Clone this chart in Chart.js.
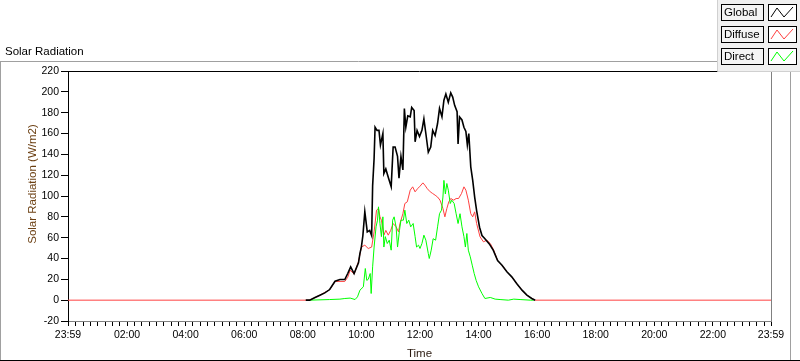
<!DOCTYPE html>
<html><head><meta charset="utf-8">
<script src="https://cdn.jsdelivr.net/npm/chart.js@4/dist/chart.umd.min.js"></script>
<style>html,body{margin:0;padding:0;background:#fff;overflow:hidden}#wrap{position:relative;width:800px;height:361px}</style>
</head><body><div id="wrap"><canvas id="c" width="800" height="361"></canvas></div>
<script>
// ---- data (minutes after midnight, W/m2) ----
const seriesNames = ['Global', 'Diffuse', 'Direct'];
const seriesColors = ['#000000', '#ff4040', '#00ff00'];

const globalTimes = [486,494,505,515,525,535,546,556,566,572,578,585,594,597,600,603,607,612,617,621,623,626,628,632,636,639,644,646,650,655,661,665,669,674,677,681,685,688,691,695,700,703,708,710,714,719,724,728,732,737,742,746,751,756,760,765,769,773,778,783,787,791,796,798,801,806,810,814,817,820,824,828,832,836,842,847,853,862,870,879,888,898,908,918,929,939,949,956];
const globalValues = [0,0,2.6,4.8,7,10.2,18.2,19.8,19.8,25.6,32,25.6,35.8,45,51.2,62,85,65.6,67,62,110,136,166,163,163,149,160,121.6,126,118,109,147,147,138,117,138,125,184,166,177,176,185,182,152,163,157,163,174,160,142,147,163,158,169.6,184,176,192,198,190,199,195,187,181,150,176,173,166,162,149,160,128,115,99,86,70,62,59,54,48,38,33.6,27.2,22.4,16,9.6,4.8,1.6,0];

const diffuseTimes = [-1,494,515,535,546,566,572,577,585,594,600,607,614,621,626,631,635,638,641,646,650,655,660,665,671,676,679,685,689,694,700,705,710,715,720,726,730,735,741,746,751,756,761,767,771,775,779,783,789,794,799,805,810,814,819,824,828,832,836,843,850,857,864,871,879,888,898,908,918,929,939,949,956,1439];
const diffuseValues = [0,0,4.8,10,18,18,22,28.8,25,37,51,52.8,49.6,51,65.6,86.4,88,80,76.8,62.4,67,62.4,67,73.6,70.4,65.6,73.6,83,92.8,94.4,105.6,108.8,104,107,109.4,112.6,110.4,107,104,102.4,100.8,99,96,88,80,88,94.4,97.6,96,97.6,97.6,102.4,108.8,105.6,96,83,80,84.8,73.6,60.8,56,57.6,54.4,48,38,33.6,27.2,22.4,16,9.6,4.8,1.6,0,0];

const directTimes = [494,535,556,566,577,587,592,597,604,608,611,614,618,620,623,626,630,633,635,638,641,644,646,649,653,657,661,664,667,671,674,678,681,686,689,693,697,701,706,710,713,717,720,724,728,732,737,739,743,747,752,756,760,764,767,769,772,775,778,782,785,790,794,798,802,806,810,813,816,819,823,827,831,835,840,847,853,864,874,884,901,912,925,946,953];
const directValues = [0,0.6,1,1.6,2,0.6,3.2,9.6,12.8,30.4,19,20,25.6,6.4,32,51,70.4,76.8,89.6,73.6,61,80,51,61,54.4,57.6,48,76.8,80,70.4,51,67,76.8,76.8,86.4,73.6,76.8,70.4,73.6,61,51,52.8,49.6,54.4,62.4,57.6,44.8,40,48,59,57.6,70.4,83,86.4,99,115,102,112,105.6,92.8,96,92.8,83,73.6,83,70.4,61,51,64,48,41.6,33.6,25.6,19,12.8,6.4,1.6,2.6,1,0.6,0,1,0.6,0,0];

const xTickMajor = [-1,120,240,360,480,600,720,840,960,1080,1200,1320,1439];
const yTickValues = [-20,0,20,40,60,80,100,120,140,160,180,200,220];

// ---- helpers ----
function pts(t, v){ return t.map((m,i)=>({x:m, y:v[i]})); }
function fmt(m){ if(m<0) m+=1440; const h=Math.floor(m/60), mm=m%60; return String(h).padStart(2,'0')+':'+String(mm).padStart(2,'0'); }
const xTickAll = (()=>{ const a=[-1]; for(let m=15;m<1439;m+=15) a.push(m); a.push(1439); return a; })();

const FONT = "'Liberation Sans', Arial, sans-serif";
Chart.defaults.font.family = FONT;
Chart.defaults.font.size = 10;
Chart.defaults.color = '#000';

const decor = {
  id:'decor',
  beforeDraw(chart){
    const c = chart.ctx;
    c.save();
    c.fillStyle='#fff'; c.fillRect(0,0,800,361);
    c.strokeStyle='#a0a0a0'; c.lineWidth=1;
    c.beginPath(); c.moveTo(0,61.5); c.lineTo(717,61.5); c.stroke();
    c.beginPath(); c.moveTo(0.5,61); c.lineTo(0.5,361); c.stroke();
    c.beginPath(); c.moveTo(790.5,68); c.lineTo(790.5,361); c.stroke();
    c.strokeStyle='#000';
    c.beginPath(); c.moveTo(0,360.5); c.lineTo(800,360.5); c.stroke();
    c.fillStyle='#000'; c.font="11.5px "+FONT; c.textBaseline='alphabetic'; c.textAlign='left';
    c.fillText('Solar Radiation',5,55);
    c.restore();
  },
  afterDraw(chart){
    const c = chart.ctx, a = chart.chartArea;
    c.save();
    c.lineWidth=1;
    c.strokeStyle='#000'; c.beginPath(); c.moveTo(a.left,a.top+0.5); c.lineTo(a.right,a.top+0.5); c.stroke();
    c.strokeStyle='#808080'; c.beginPath(); c.moveTo(a.right+0.5,a.top); c.lineTo(a.right+0.5,a.bottom+1); c.stroke();
    c.fillStyle='#2b1a10'; c.font="11.5px "+FONT; c.textAlign='center'; c.textBaseline='middle';
    c.fillText('Time',(a.left+a.right)/2,354);
    c.save(); c.translate(33,184); c.rotate(-Math.PI/2); c.fillStyle='#6b3f12'; c.fillText('Solar Radiation (W/m2)',0,0); c.restore();
    c.fillStyle='#f0f0f0'; c.fillRect(717,0,83,71);
    c.strokeStyle='#d0d0d0'; c.beginPath(); c.moveTo(717.5,0); c.lineTo(717.5,71.5); c.lineTo(800,71.5); c.stroke();
    const rows=[4,26,48];
    seriesNames.forEach((n,i)=>{
      const y=rows[i];
      c.fillStyle='#f4f4f4'; c.fillRect(721,y,43,17);
      c.strokeStyle='#000'; c.strokeRect(721.5,y+0.5,42,16);
      c.fillStyle='#000'; c.font="11.5px "+FONT; c.textAlign='left'; c.textBaseline='middle';
      c.fillText(n,724,y+9);
      c.fillStyle='#fff'; c.fillRect(768,y,29,17);
      c.strokeStyle='#000'; c.strokeRect(768.5,y+0.5,28,16);
      c.strokeStyle=seriesColors[i]; c.beginPath();
      c.moveTo(771,y+13); c.lineTo(777,y+4); c.lineTo(784,y+13); c.lineTo(793,y+3); c.stroke();
    });
    c.restore();
  }
};

new Chart(document.getElementById('c'), {
  type:'line',
  data:{ datasets:[
    {label:seriesNames[0], data:pts(globalTimes,globalValues), borderColor:seriesColors[0], borderWidth:1.6, pointRadius:0, order:0},
    {label:seriesNames[1], data:pts(diffuseTimes,diffuseValues), borderColor:seriesColors[1], borderWidth:1, pointRadius:0, order:2},
    {label:seriesNames[2], data:pts(directTimes,directValues), borderColor:seriesColors[2], borderWidth:1, pointRadius:0, order:1}
  ]},
  options:{
    responsive:false, animation:false, devicePixelRatio:1,
    layout:{padding:{top:71,left:0,right:29,bottom:0}},
    plugins:{legend:{display:false}, tooltip:{enabled:false}},
    elements:{line:{tension:0}},
    scales:{
      x:{ type:'linear', min:-1, max:1439,
        afterBuildTicks(s){ s.ticks = xTickAll.map(v=>({value:v})); },
        afterFit(s){ s.height = 40; },
        ticks:{ autoSkip:false, maxRotation:0, padding:3, font:{size:10.5},
          callback(v){ return xTickMajor.includes(v) ? fmt(v) : ''; } },
        grid:{ drawOnChartArea:false, drawTicks:true, tickLength:5, color:'#000' },
        border:{ color:'#808080', width:1 }
      },
      y:{ min:-20, max:220,
        afterBuildTicks(s){ s.ticks = yTickValues.map(v=>({value:v})); },
        afterFit(s){ s.width = 68; },
        ticks:{ padding:2, font:{size:10.5} },
        grid:{ drawOnChartArea:false, drawTicks:true, tickLength:7, color:'#000' },
        border:{ color:'#000', width:1 }
      }
    }
  },
  plugins:[decor]
});
</script>
</body></html>
